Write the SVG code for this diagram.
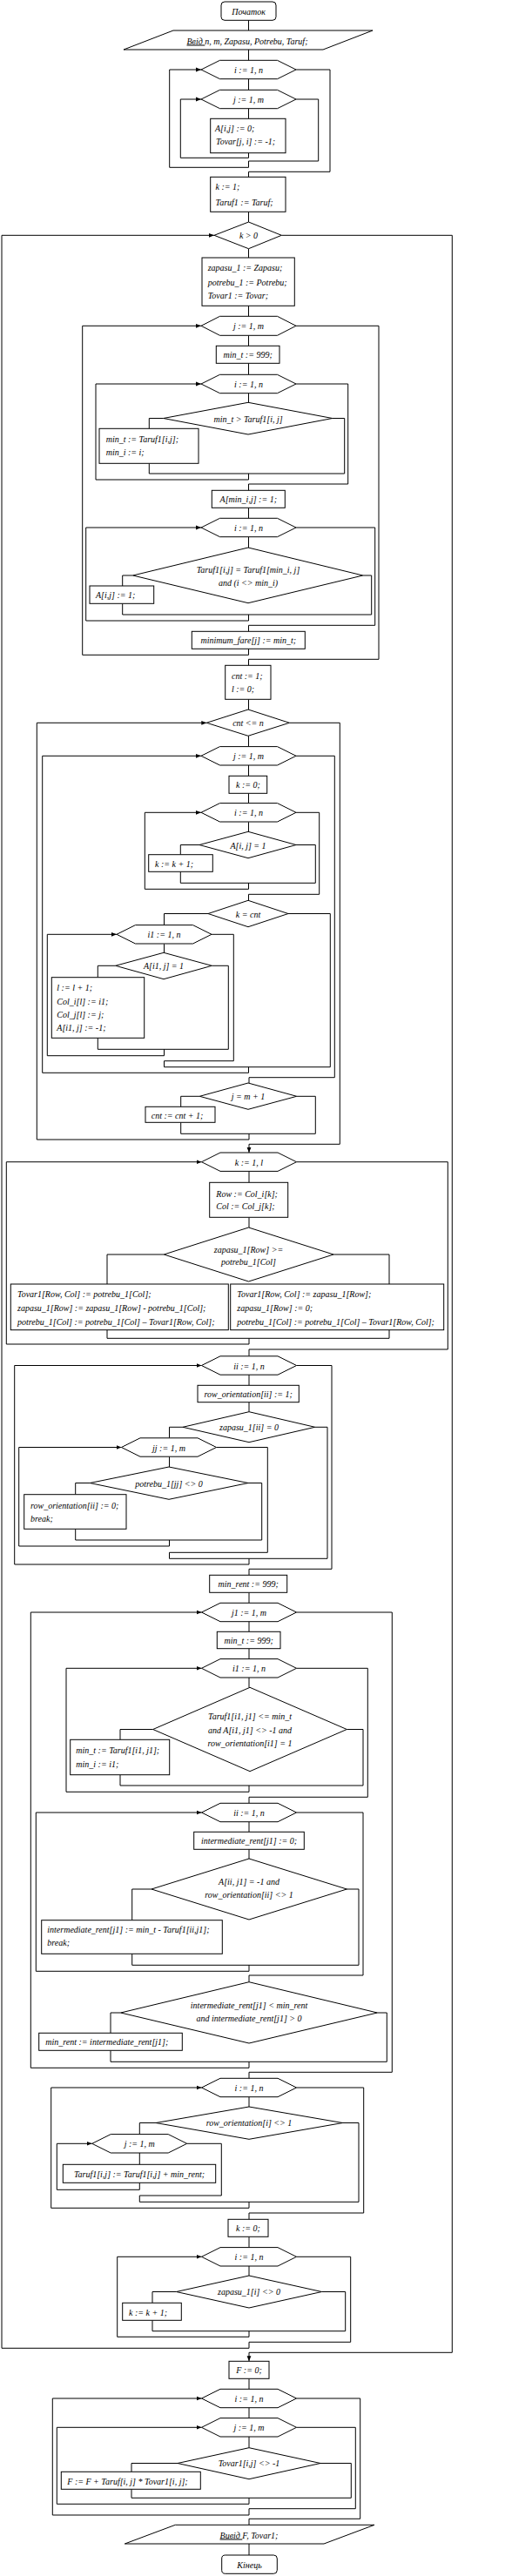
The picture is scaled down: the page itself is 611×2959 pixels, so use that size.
<svg xmlns="http://www.w3.org/2000/svg" width="611" height="2959" viewBox="0 0 611 2959">
<style>
.s{fill:#fff;stroke:#000;stroke-width:1}
.c{fill:none;stroke:#000;stroke-width:1}
.a{fill:none;stroke:#000;stroke-width:1;marker-end:url(#ar)}
text{font-family:"Liberation Serif","Times New Roman",serif;font-style:italic;font-size:10px;fill:#000}
.m{text-anchor:middle}
</style>
<defs>
<marker id="ar" viewBox="0 0 10 10" refX="10" refY="5" markerWidth="6" markerHeight="6" markerUnits="userSpaceOnUse" orient="auto"><path d="M0,1 L10,5 L0,9 z" fill="#000"/></marker>
</defs>
<rect width="611" height="2959" fill="#fff"/>
<g id="connectors">
<path class="c" d="M285.5,23 V35 M285.5,57 V69.3 M285.5,90.7 V103.3 M285.5,124.7 V136.3"/>
<path class="a" d="M285.5,175.7 V181.3 H207.3 V114 H231"/>
<path class="c" d="M340,114 H365.7 V185 H285.5"/>
<path class="a" d="M285.5,185 V192.3 H194.7 V80 H231"/>
<path class="c" d="M340,80 H379 V197.3 H285.5 V203.3 M285.5,243.3 V255"/>
<path class="c" d="M285.5,285.7 V296 M285.5,351.3 V363.3 M285.5,385.3 V397.3 M285.5,417.3 V430 M285.5,451.7 V462.3"/>
<path class="c" d="M187.7,480.5 H171.3 V492.3 M381.7,480.5 H395.7 V544 H171.3 V532.3"/>
<path class="a" d="M285.5,544 V551 H110 V441 H231"/>
<path class="c" d="M340,441 H399.7 V556 H285.5 V563.3 M285.5,583.3 V595.3 M285.5,617 V629"/>
<path class="c" d="M152.7,661 H140.7 V673 M416.7,661 H426.7 V706 H140.7 V693.3"/>
<path class="a" d="M285.5,706 V713 H98.7 V606 H231"/>
<path class="c" d="M340,606 H430.7 V718.3 H285.5 V725.3"/>
<path class="a" d="M285.5,745.3 V752.3 H94.7 V374.3 H231"/>
<path class="c" d="M340,374.3 H435 V757.3 H285.5 V764.3 M285.5,803.3 V815 M285.5,845.3 V857.3 M285.5,879 V891.3 M285.5,911.3 V922.7 M285.5,944.3 V955.3"/>
<path class="c" d="M229,970.5 H207.3 V981.7 M340,970.5 H362.3 V1014.3 H207.3 V1001.3"/>
<path class="a" d="M285.5,1014.3 V1021.3 H166.3 V933.3 H231"/>
<path class="c" d="M340,933.3 H366.7 V1027.3 H285.5 V1034.3"/>
<path class="c" d="M239,1049.5 H188.5 V1062.7 M331,1049.5 H379.3 V1225.7 H188.5 V1218.7"/>
<path class="c" d="M188.5,1084.3 V1094.3 M132.7,1109.3 H112.3 V1122.7 M243.3,1109.3 H262.3 V1205.3 H112.3 V1192.3"/>
<path class="a" d="M188.5,1205.3 V1212.7 H54.3 V1073.3 H134"/>
<path class="c" d="M242.5,1073.3 H268.3 V1218.7 H188.5"/>
<path class="a" d="M285.5,1225.7 V1232.3 H48.7 V868.3 H231"/>
<path class="c" d="M340,868.3 H384.3 V1237.7 H286 V1244"/>
<path class="c" d="M229.3,1259.3 H207.7 V1271.3 M340.7,1259.3 H362.3 V1302.3 H207.7 V1289.3"/>
<path class="a" d="M286,1302.3 V1309 H42.3 V830.3 H237.3"/>
<path class="a" d="M332.3,830.3 H390.3 V1314.3 H286 V1324"/>
<path class="c" d="M286,1345.3 V1358.3 M286,1398.3 V1410 M188.3,1441 H123 V1475 M383,1441 H447 V1475 M123,1527.7 V1537.3 H447 V1527.7"/>
<path class="a" d="M286,1537.3 V1544 H7.3 V1334.7 H231.5"/>
<path class="c" d="M340.5,1334.7 H514.3 V1550 H286 V1557.7 M286,1579 V1591.3 M286,1610.7 V1621.7"/>
<path class="c" d="M210,1639.3 H194.5 V1651.7 M361.7,1639.3 H376 V1790.3 H194.5 V1783.3"/>
<path class="c" d="M194.5,1673.3 V1685 M103.3,1703.5 H86.7 V1716.7 M285,1703.5 H300.7 V1769 H86.7 V1756.3"/>
<path class="a" d="M194.5,1769 V1776 H21.7 V1662.5 H139.5"/>
<path class="c" d="M248.5,1662.5 H307.3 V1783.3 H194.5"/>
<path class="a" d="M286,1790.3 V1797 H16.7 V1568.5 H231.5"/>
<path class="c" d="M340.5,1568.5 H381 V1802.3 H286 V1809.3 M286,1829.3 V1841.3 M286,1862.3 V1874.3 M286,1893.7 V1905.7 M286,1927 V1938.3"/>
<path class="c" d="M175.7,1986.5 H138 V1998.3 M398.3,1986.5 H417 V2051 H138 V2038.7"/>
<path class="a" d="M286,2051 V2058.3 H76 V1916.3 H231.5"/>
<path class="c" d="M340.5,1916.3 H422.3 V2064.3 H286 V2071.3 M286,2092.7 V2104.3 M286,2124.3 V2135"/>
<path class="c" d="M174,2170 H151.7 V2205.7 M398,2170 H412 V2257.3 H151.7 V2244.3"/>
<path class="a" d="M286,2257.3 V2264.3 H41.3 V2082 H231.5"/>
<path class="c" d="M340.5,2082 H417 V2269 H286 V2276.7"/>
<path class="c" d="M138.7,2312 H127 V2335.3 M433.3,2312 H444.3 V2368.3 H127 V2355.3"/>
<path class="a" d="M286,2368.3 V2375.3 H35.3 V1852 H231.5"/>
<path class="c" d="M340.5,1852 H450.3 V2380.3 H286 V2387.3 M286,2408.7 V2420"/>
<path class="c" d="M179,2438.5 H160.3 V2451.5 M393,2438.5 H412 V2529.3 H160.3 V2522 M160.3,2473 V2486.3"/>
<path class="a" d="M160.3,2507.3 V2515.3 H65.3 V2462.3 H105.7"/>
<path class="c" d="M214.7,2462.3 H254.3 V2522 H160.3"/>
<path class="a" d="M286,2529.3 V2536.3 H58.7 V2398 H231.5"/>
<path class="c" d="M340.5,2398 H417.7 V2542 H286 V2549.3 M286,2569.3 V2581.3 M286,2602.7 V2614"/>
<path class="c" d="M202.5,2632.5 H175 V2645.3 M369.5,2632.5 H396.7 V2677.7 H175 V2665.3"/>
<path class="a" d="M286,2677.7 V2684.3 H134.7 V2592.3 H231.5"/>
<path class="c" d="M340.5,2592.3 H402.7 V2690.3 H286"/>
<path class="a" d="M286,2690.3 V2697.3 H2 V270.3 H246"/>
<path class="a" d="M323.3,270.3 H519.3 V2702.3 H286 V2712.3"/>
<path class="c" d="M286,2732.3 V2744 M286,2765.7 V2777.3 M286,2799 V2811.7"/>
<path class="c" d="M204,2829.5 H151 V2839.3 M368,2829.5 H403.3 V2869.3 H151 V2859.3"/>
<path class="a" d="M286,2869.3 V2876.3 H65.3 V2788.3 H231.5"/>
<path class="c" d="M340.5,2788.3 H408.3 V2881.7 H286"/>
<path class="a" d="M286,2881.7 V2889 H60.3 V2755 H231.5"/>
<path class="c" d="M340.5,2755 H413.7 V2893.3 H286 V2900.3 M286,2922 V2935"/>
</g>
<g id="start"><rect class="s" x="254" y="2" width="63" height="21.3" rx="4"/><text class="m" x="285.5" y="16.5">Початок</text></g>
<g id="input"><polygon class="s" points="199,35 428,35 371,57 142,57"/><text class="m" x="284" y="50.5"><tspan text-decoration="underline">Ввід </tspan>n, m, Zapasu, Potrebu, Taruf;</text></g>
<g id="loop-i1"><polygon class="s" points="231,80 252.5,69.3 318.5,69.3 340,80 318.5,90.7 252.5,90.7"/><text class="m" x="285.5" y="84">i := 1, n</text></g>
<g id="loop-j1"><polygon class="s" points="231,114 252.5,103.3 318.5,103.3 340,114 318.5,124.7 252.5,124.7"/><text class="m" x="285.5" y="118">j := 1, m</text></g>
<g id="init-a"><rect class="s" x="241.7" y="136.3" width="86.3" height="39.4"/><text x="247" y="151">A[i,j] := 0;</text><text x="248" y="166"> Tovar[j, i] := -1;</text></g>
<g id="init-k"><rect class="s" x="241.7" y="203.3" width="86.3" height="40"/><text x="247.5" y="217.7">k := 1;</text><text x="247.5" y="235.7">Taruf1 := Taruf;</text></g>
<g id="cond-k"><polygon class="s" points="285.5,255 323.3,270.3 285.5,285.7 246,270.3"/><text class="m" x="285.5" y="274">k &gt; 0</text></g>
<g id="copy"><rect class="s" x="232" y="296" width="106.3" height="55.3"/><text x="238.7" y="311">zapasu_1 := Zapasu;</text><text x="238.7" y="328">potrebu_1 := Potrebu;</text><text x="238.7" y="343">Tovar1 := Tovar;</text></g>
<g id="loop-j2"><polygon class="s" points="231,374.3 252.5,363.3 318.5,363.3 340,374.3 318.5,385.3 252.5,385.3"/><text class="m" x="285.5" y="378.3">j := 1, m</text></g>
<g id="mint1"><rect class="s" x="248.3" y="397.3" width="72.7" height="20"/><text class="m" x="284.7" y="411.3">min_t := 999;</text></g>
<g id="loop-i2"><polygon class="s" points="231,441 252.5,430.3 318.5,430.3 340,441 318.5,451.7 252.5,451.7"/><text class="m" x="285.5" y="445">i := 1, n</text></g>
<g id="cond-mint"><polygon class="s" points="285,462.3 381.7,480.5 285,499 187.7,480.5"/><text class="m" x="285" y="484.5">min_t &gt; Taruf1[i, j]</text></g>
<g id="set-mint"><rect class="s" x="114" y="492.3" width="114" height="40"/><text x="121.7" y="508">min_t := Taruf1[i,j];</text><text x="121.7" y="523">min_i := i;</text></g>
<g id="set-a1"><rect class="s" x="243.3" y="563.3" width="84" height="20"/><text class="m" x="285.3" y="577.3">A[min_i,j] := 1;</text></g>
<g id="loop-i3"><polygon class="s" points="231,606 252.5,595.3 318.5,595.3 340,606 318.5,616.7 252.5,616.7"/><text class="m" x="285.5" y="610">i := 1, n</text></g>
<g id="cond-eq"><polygon class="s" points="285,629 416.7,661 285,692.7 152.7,661"/><text class="m" x="285" y="658">Taruf1[i,j] = Taruf1[min_i, j]</text><text class="m" x="285" y="673.3">and (i &lt;&gt; min_i)</text></g>
<g id="set-a2"><rect class="s" x="103" y="673" width="73.7" height="20.3"/><text x="110" y="687.3">A[i,j] := 1;</text></g>
<g id="min-fare"><rect class="s" x="220.3" y="725.3" width="130" height="20"/><text class="m" x="285.3" y="739.3">minimum_fare[j] := min_t;</text></g>
<g id="init-cnt"><rect class="s" x="258.7" y="764.3" width="52.3" height="39"/><text x="266" y="779.7">cnt := 1;</text><text x="266" y="795">l := 0;</text></g>
<g id="while-cnt"><polygon class="s" points="285,815 332.3,830.3 285,845.3 237.3,830.3"/><text class="m" x="285" y="834.3">cnt &lt;= n</text></g>
<g id="loop-j3"><polygon class="s" points="231,868.3 252.5,857.6 318.5,857.6 340,868.3 318.5,879 252.5,879"/><text class="m" x="285.5" y="872.3">j := 1, m</text></g>
<g id="k0a"><rect class="s" x="263" y="891.3" width="43.7" height="20"/><text class="m" x="285" y="905.3">k := 0;</text></g>
<g id="loop-i4"><polygon class="s" points="231,933.3 252.5,922.6 318.5,922.6 340,933.3 318.5,944 252.5,944"/><text class="m" x="285.5" y="937.3">i := 1, n</text></g>
<g id="cond-a1"><polygon class="s" points="285,955.3 340,970.5 285,985.7 229,970.5"/><text class="m" x="285" y="974.5">A[i, j] = 1</text></g>
<g id="inc-k1"><rect class="s" x="170.7" y="981.7" width="73.6" height="19.6"/><text x="178" y="996">k := k + 1;</text></g>
<g id="cond-kcnt"><polygon class="s" points="285,1034.3 331,1049.5 285,1064.7 239,1049.5"/><text class="m" x="285" y="1053.5">k = cnt</text></g>
<g id="loop-i1b"><polygon class="s" points="134,1073.3 155.5,1062.6 221.5,1062.6 243,1073.3 221.5,1084 155.5,1084"/><text class="m" x="188.5" y="1077.3">i1 := 1, n</text></g>
<g id="cond-a2"><polygon class="s" points="188,1094.3 243.3,1109.3 188,1124.7 132.7,1109.3"/><text class="m" x="188" y="1113.3">A[i1, j] = 1</text></g>
<g id="record"><rect class="s" x="59.3" y="1122.7" width="106.4" height="69.6"/><text x="65.3" y="1137.7">l := l + 1;</text><text x="65.3" y="1153.5">Col_i[l] := i1;</text><text x="65.3" y="1169">Col_j[l] := j;</text><text x="65.3" y="1184.3">A[i1, j] := -1;</text></g>
<g id="cond-jm"><polygon class="s" points="285,1244 340.7,1259.3 285,1274.3 229.3,1259.3"/><text class="m" x="285" y="1263.3">j = m + 1</text></g>
<g id="inc-cnt"><rect class="s" x="167" y="1271.3" width="80" height="18"/><text x="173.7" y="1284.5">cnt := cnt + 1;</text></g>
<g id="loop-k"><polygon class="s" points="231.5,1334.7 253,1324 319,1324 340.5,1334.7 319,1345.4 253,1345.4"/><text class="m" x="286" y="1338.7">k := 1, l</text></g>
<g id="rowcol"><rect class="s" x="240.7" y="1358.3" width="90" height="40"/><text x="248.3" y="1374.7">Row := Col_i[k];</text><text x="248.3" y="1389.3">Col := Col_j[k];</text></g>
<g id="cond-zp"><polygon class="s" points="285.5,1410 383,1441 285.5,1472 188.3,1441"/><text class="m" x="285.5" y="1439">zapasu_1[Row] &gt;=</text><text class="m" x="285.5" y="1453.3">potrebu_1[Col]</text></g>
<g id="ship-left"><rect class="s" x="12.3" y="1475" width="250" height="52.7"/><text x="20" y="1490">Tovar1[Row, Col] := potrebu_1[Col];</text><text x="20" y="1506.3">zapasu_1[Row] := zapasu_1[Row] - potrebu_1[Col];</text><text x="20" y="1521.7">potrebu_1[Col] := potrebu_1[Col] – Tovar1[Row, Col];</text></g>
<g id="ship-right"><rect class="s" x="264.7" y="1475" width="245" height="52.7"/><text x="272.3" y="1490">Tovar1[Row, Col] := zapasu_1[Row];</text><text x="272.3" y="1506.3">zapasu_1[Row] := 0;</text><text x="272.3" y="1521.7">potrebu_1[Col] := potrebu_1[Col] – Tovar1[Row, Col];</text></g>
<g id="loop-ii1"><polygon class="s" points="231.5,1568.5 253,1557.8 319,1557.8 340.5,1568.5 319,1579.2 253,1579.2"/><text class="m" x="286" y="1572.5">ii := 1, n</text></g>
<g id="ro1"><rect class="s" x="227" y="1591.3" width="116.3" height="19.4"/><text class="m" x="285.2" y="1605">row_orientation[ii] := 1;</text></g>
<g id="cond-zii"><polygon class="s" points="286,1621.7 361.7,1639.3 286,1656.7 210,1639.3"/><text class="m" x="286" y="1643.3">zapasu_1[ii] = 0</text></g>
<g id="loop-jj"><polygon class="s" points="139.5,1662.5 161,1651.8 227,1651.8 248.5,1662.5 227,1673.2 161,1673.2"/><text class="m" x="194" y="1666.5">jj := 1, m</text></g>
<g id="cond-pjj"><polygon class="s" points="194,1685 285,1703.5 194,1722.3 103.3,1703.5"/><text class="m" x="194" y="1707.5">potrebu_1[jj] &lt;&gt; 0</text></g>
<g id="ro0"><rect class="s" x="27.7" y="1716.7" width="117.3" height="39.6"/><text x="35" y="1733">row_orientation[ii] := 0;</text><text x="35" y="1747.7">break;</text></g>
<g id="minrent"><rect class="s" x="240.7" y="1809.3" width="89" height="20"/><text class="m" x="285.2" y="1823.3">min_rent := 999;</text></g>
<g id="loop-j1b"><polygon class="s" points="231.5,1852 253,1841.3 319,1841.3 340.5,1852 319,1862.7 253,1862.7"/><text class="m" x="286" y="1856">j1 := 1, m</text></g>
<g id="mint2"><rect class="s" x="249.3" y="1874.3" width="72.7" height="19.4"/><text class="m" x="285.7" y="1888">min_t := 999;</text></g>
<g id="loop-i1c"><polygon class="s" points="231.5,1916.3 253,1905.6 319,1905.6 340.5,1916.3 319,1927 253,1927"/><text class="m" x="286" y="1920.3">i1 := 1, n</text></g>
<g id="cond-t"><polygon class="s" points="287,1938.3 398.3,1986.5 287,2034.7 175.7,1986.5"/><text class="m" x="287" y="1975">Taruf1[i1, j1] &lt;= min_t</text><text class="m" x="287" y="1990.7">and A[i1, j1] &lt;&gt; -1 and</text><text class="m" x="287" y="2006.3">row_orientation[i1] = 1</text></g>
<g id="set-mint2"><rect class="s" x="80.7" y="1998.3" width="114" height="40.4"/><text x="87.3" y="2014">min_t := Taruf1[i1, j1];</text><text x="87.3" y="2029.7">min_i := i1;</text></g>
<g id="loop-ii2"><polygon class="s" points="231.5,2082 253,2071.3 319,2071.3 340.5,2082 319,2092.7 253,2092.7"/><text class="m" x="286" y="2086">ii := 1, n</text></g>
<g id="ir0"><rect class="s" x="222.7" y="2104.3" width="126.6" height="20"/><text class="m" x="286" y="2118.3">intermediate_rent[j1] := 0;</text></g>
<g id="cond-aii"><polygon class="s" points="286,2135 398.3,2170 286,2205 174,2170"/><text class="m" x="286" y="2165">A[ii, j1] = -1 and</text><text class="m" x="286" y="2180">row_orientation[ii] &lt;&gt; 1</text></g>
<g id="ir-set"><rect class="s" x="47.7" y="2205.7" width="207.6" height="38.6"/><text x="54.3" y="2220.3">intermediate_rent[j1] := min_t - Taruf1[ii,j1];</text><text x="54.3" y="2235.3">break;</text></g>
<g id="cond-ir"><polygon class="s" points="286,2276.7 433.3,2312 286,2347 138.7,2312"/><text class="m" x="286" y="2307.3">intermediate_rent[j1] &lt; min_rent</text><text class="m" x="286" y="2322.3">and intermediate_rent[j1] &gt; 0</text></g>
<g id="set-minrent"><rect class="s" x="44.7" y="2335.3" width="164.6" height="20"/><text x="52.3" y="2349.3">min_rent := intermediate_rent[j1];</text></g>
<g id="loop-i5"><polygon class="s" points="231.5,2398 253,2387.3 319,2387.3 340.5,2398 319,2408.7 253,2408.7"/><text class="m" x="286" y="2402">i := 1, n</text></g>
<g id="cond-ro"><polygon class="s" points="286,2420 393.5,2438.5 286,2457.3 179,2438.5"/><text class="m" x="286" y="2441.5">row_orientation[i] &lt;&gt; 1</text></g>
<g id="loop-j4"><polygon class="s" points="105.7,2462.3 127.2,2451.6 193.2,2451.6 214.7,2462.3 193.2,2473 127.2,2473"/><text class="m" x="160.2" y="2466.3">j := 1, m</text></g>
<g id="upd-t"><rect class="s" x="72.3" y="2486.3" width="175.4" height="21"/><text class="m" x="160" y="2500.7">Taruf1[i,j] := Taruf1[i,j] + min_rent;</text></g>
<g id="k0b"><rect class="s" x="262" y="2549.3" width="46" height="20"/><text class="m" x="285" y="2563.3">k := 0;</text></g>
<g id="loop-i6"><polygon class="s" points="231.5,2592.3 253,2581.6 319,2581.6 340.5,2592.3 319,2603 253,2603"/><text class="m" x="286" y="2596.3">i := 1, n</text></g>
<g id="cond-zi"><polygon class="s" points="286,2614 369.5,2632.5 286,2651 202.5,2632.5"/><text class="m" x="286" y="2635.7">zapasu_1[i] &lt;&gt; 0</text></g>
<g id="inc-k2"><rect class="s" x="140.7" y="2645.3" width="67.6" height="20"/><text x="148" y="2659.5">k := k + 1;</text></g>
<g id="f0"><rect class="s" x="263" y="2712.3" width="46" height="20"/><text class="m" x="286" y="2726.3">F := 0;</text></g>
<g id="loop-i7"><polygon class="s" points="231.5,2755 253,2744.3 319,2744.3 340.5,2755 319,2765.7 253,2765.7"/><text class="m" x="286" y="2759">i := 1, n</text></g>
<g id="loop-j5"><polygon class="s" points="231.5,2788.3 253,2777.6 319,2777.6 340.5,2788.3 319,2799 253,2799"/><text class="m" x="286" y="2792.3">j := 1, m</text></g>
<g id="cond-tov"><polygon class="s" points="286,2811.7 368,2829.5 286,2847.7 204,2829.5"/><text class="m" x="286" y="2833">Tovar1[i,j] &lt;&gt; -1</text></g>
<g id="f-sum"><rect class="s" x="70.3" y="2839.3" width="160" height="20"/><text x="77.3" y="2853.5">F := F + Taruf[i, j] * Tovar1[i, j];</text></g>
<g id="output"><polygon class="s" points="201.3,2900.3 430,2900.3 372,2922 143.3,2922"/><text class="m" x="286" y="2915.5"><tspan text-decoration="underline">Вивід </tspan>F, Tovar1;</text></g>
<g id="end"><rect class="s" x="254.7" y="2935" width="63.6" height="21.3" rx="4"/><text class="m" x="286.5" y="2949.5">Кінець</text></g>
</svg>
